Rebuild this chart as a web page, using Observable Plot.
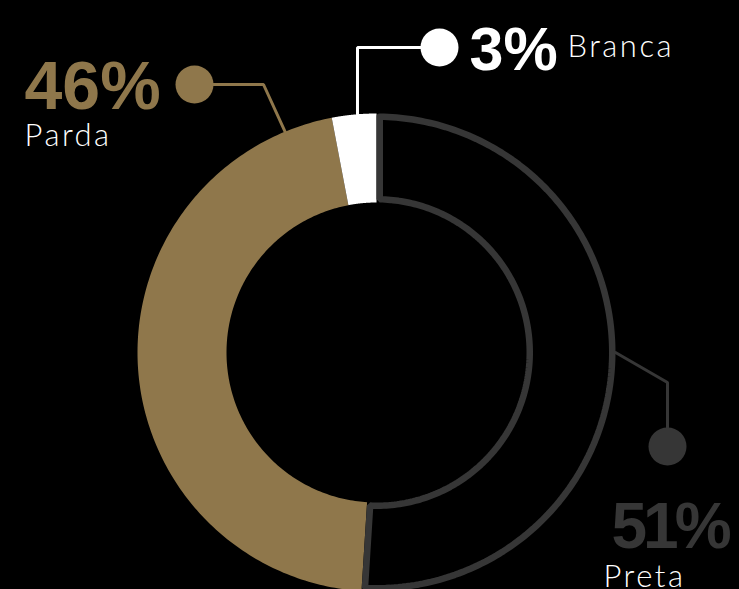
<!DOCTYPE html>
<html>
<head>
<meta charset="utf-8">
<script src="https://cdn.jsdelivr.net/npm/d3@7"></script>
<script src="https://cdn.jsdelivr.net/npm/@observablehq/plot@0.6"></script>
<style>
  html, body { margin: 0; padding: 0; background: #000; overflow: hidden; }
  #chart svg { display: block; }
</style>
</head>
<body>
<div id="chart"></div>
<script>
// ---- data ----
const categories = ["Preta", "Parda", "Branca"];
const shares = [51, 46, 3];
const percentLabels = ["51%", "46%", "3%"];

// ---- styles ----
const colors = {Preta: "#363636", Parda: "#8f774b", Branca: "#ffffff"};
const W = 739, H = 589;
const cx = 376, cy = 352, R = 239, r0 = 150;
const presetStroke = 6.5;

// ---- layout of callouts (angle on ring in degrees clockwise from top, elbow, dot) ----
const callouts = {
  Preta:  {angle: 90,    elbow: [[667, 382]],  dot: [667, 446],
           num: {x: 611, y: 547, size: 64, ls: -4}, name: {x: 603, y: 586, size: 31}},
  Parda:  {angle: 337.5, elbow: [[263, 84]],   dot: [194, 84],
           num: {x: 24, y: 108, size: 68, ls: 0}, name: {x: 24, y: 145, size: 31}},
  Branca: {angle: -4.56, elbow: [[357, 47]],   dot: [439, 47],
           num: {x: 469, y: 69, size: 61, ls: 0}, name: {x: 567, y: 56, size: 31}}
};
const nameSpacing = 2.5;

const rad = d => d * Math.PI / 180;
const pt = (a, r) => [cx + r * Math.sin(a), cy - r * Math.cos(a)];

// build slice polygons from cumulative shares
const total = d3.sum(shares);
let acc = 0;
const slices = categories.map((c, i) => {
  const a0 = acc / total * 2 * Math.PI;
  acc += shares[i];
  const a1 = acc / total * 2 * Math.PI;
  return {c, a0, a1};
});

function ring(c, a0, a1, ro, ri, insetPx) {
  const pts = [];
  const n = 180;
  const ao0 = a0 + insetPx / ro, ao1 = a1 - insetPx / ro;
  const ai0 = a0 + insetPx / ri, ai1 = a1 - insetPx / ri;
  for (let k = 0; k <= n; k++) { const a = ao0 + (ao1 - ao0) * k / n; const [x, y] = pt(a, ro); pts.push({c, x, y}); }
  for (let k = 0; k <= n; k++) { const a = ai1 + (ai0 - ai1) * k / n; const [x, y] = pt(a, ri); pts.push({c, x, y}); }
  pts.push({...pts[0]});
  return pts;
}

const filled = slices.filter(s => s.c !== "Preta").flatMap(s => ring(s.c, s.a0, s.a1, R, r0, 0));
const outlined = slices.filter(s => s.c === "Preta").flatMap(s => ring(s.c, s.a0, s.a1, R - presetStroke / 2, r0 + presetStroke / 2, presetStroke / 2));

// leader lines
const leaders = categories.flatMap(c => {
  const L = callouts[c];
  const [x0, y0] = pt(rad(L.angle), R);
  return [{c, x: x0, y: y0}, ...L.elbow.map(([x, y]) => ({c, x, y})), {c, x: L.dot[0], y: L.dot[1]}];
});
const dots = categories.map(c => ({c, x: callouts[c].dot[0], y: callouts[c].dot[1]}));
const nums = categories.map((c, i) => ({c, t: percentLabels[i], ...callouts[c].num}));
const names = categories.map(c => ({c, t: c, ...callouts[c].name}));

const numColor = c => c === "Preta" ? "#363636" : colors[c];

const chart = Plot.plot({
  width: W, height: H,
  margin: 0,
  style: {background: "#000"},
  x: {domain: [0, W], range: [0, W], axis: null},
  y: {domain: [0, H], range: [0, H], axis: null},
  marks: [
    Plot.line(filled, {x: "x", y: "y", z: "c", fill: d => colors[d.c], stroke: "none", curve: "linear"}),
    Plot.line(outlined, {x: "x", y: "y", z: "c", fill: "#000", stroke: colors.Preta, strokeWidth: presetStroke, strokeLinejoin: "miter"}),
    Plot.line(leaders, {x: "x", y: "y", z: "c", stroke: d => numColor(d.c), strokeWidth: 3, strokeLinejoin: "miter"}),
    Plot.dot(dots, {x: "x", y: "y", r: 19, fill: d => numColor(d.c), stroke: "none"}),
    ...nums.map(d => Plot.text([d], {x: "x", y: "y", text: "t", fill: numColor(d.c), fontSize: d.size, fontWeight: 700,
      fontFamily: "'Liberation Sans', Arial, sans-serif", textAnchor: "start", lineAnchor: "bottom"})),
    ...names.map(d => Plot.text([d], {x: "x", y: "y", text: "t", fill: "#ffffff", fontSize: d.size, fontWeight: 300,
      fontFamily: "Lato, Roboto, sans-serif", textAnchor: "start", lineAnchor: "bottom"}))
  ]
});
// letter spacing (not a Plot text option): applied to the rendered text elements
d3.select(chart).selectAll("text").each(function () {
  const t = this.textContent;
  const n = nums.find(d => d.t === t);
  if (n && n.ls) this.setAttribute("letter-spacing", n.ls);
  if (categories.includes(t)) this.setAttribute("letter-spacing", nameSpacing);
});
document.getElementById("chart").append(chart);
</script>
</body>
</html>
